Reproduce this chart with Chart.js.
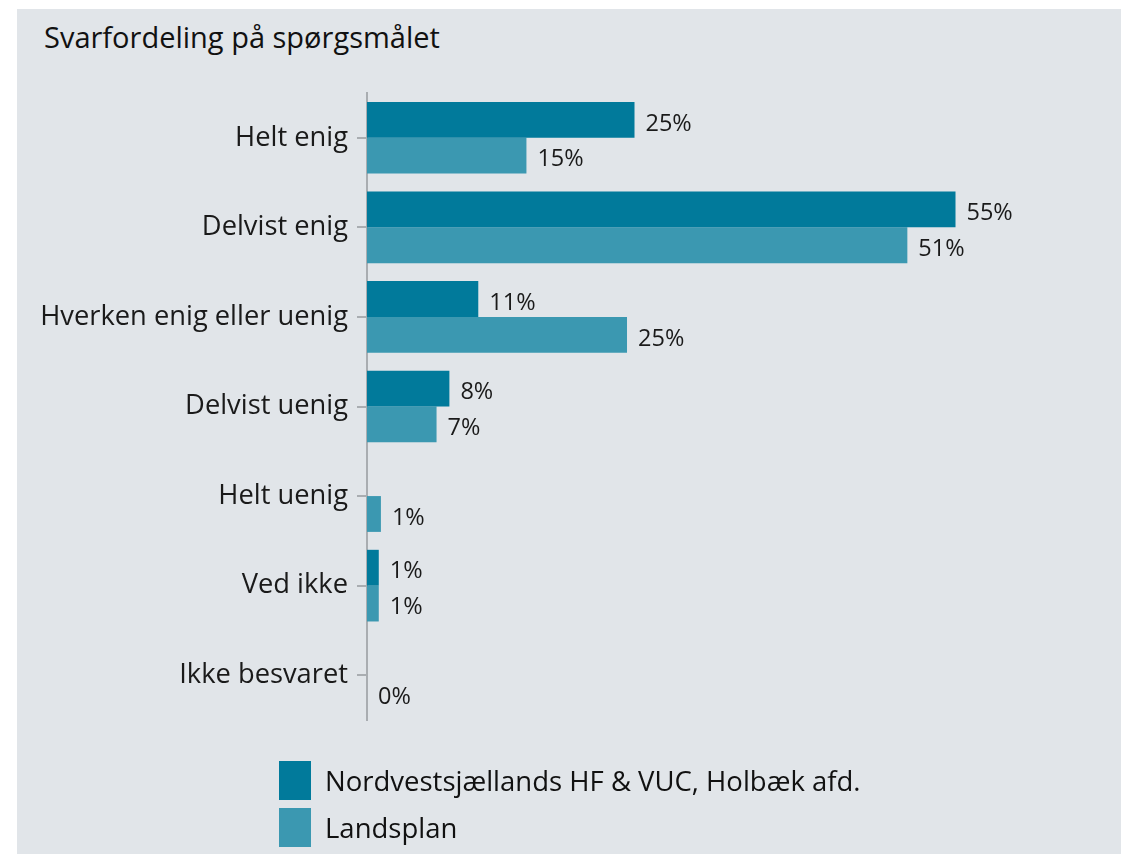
<!DOCTYPE html>
<html lang="da">
<head>
<meta charset="UTF-8">
<title>Svarfordeling på spørgsmålet</title>
<style>
  body { margin: 0; background: #ffffff; font-family: "Open Sans", "Noto Sans", sans-serif; }
  .panel {
    position: absolute;
    left: 17px; top: 9px;
    width: 1104px; height: 845px;
    background: #e1e5e9;
  }
  .panel h2 {
    position: absolute;
    left: 27px; top: 8px;
    margin: 0;
    font-size: 29px;
    font-weight: normal;
    color: #111;
  }
  #chartBox { position: absolute; left: 0; top: 0; width: 1104px; height: 845px; }
  #legend { position: absolute; left: 262px; top: 748px; }
  .item { display: flex; align-items: center; height: 47px; font-size: 27.5px; color: #111; }
  .swatch { width: 32px; height: 39px; margin-right: 14px; }
</style>
</head>
<body>
<div class="panel">
  <h2>Svarfordeling på spørgsmålet</h2>
  <div id="chartBox"><canvas id="chart"></canvas></div>
  <div id="legend"></div>
</div>

<script src="https://cdn.jsdelivr.net/npm/chart.js"></script>
<script>
  // data
  var categories = ['Helt enig', 'Delvist enig', 'Hverken enig eller uenig', 'Delvist uenig', 'Helt uenig', 'Ved ikke', 'Ikke besvaret'];
  var seriesNames = ['Nordvestsjællands HF & VUC, Holbæk afd.', 'Landsplan'];
  var skoleValues = [25.0, 55.0, 10.4, 7.7, 0, 1.1, 0];
  var landValues = [14.9, 50.5, 24.3, 6.5, 1.3, 1.1, 0];
  var skoleLabels = ['25%', '55%', '11%', '8%', '', '1%', ''];
  var landLabels = ['15%', '51%', '25%', '7%', '1%', '1%', '0%'];
  var colors = ['#017a9b', '#3b98b1'];

  // legend as html, stacked like the original
  var legend = document.getElementById('legend');
  seriesNames.forEach(function (name, i) {
    legend.innerHTML += '<div class="item"><span class="swatch" style="background:' + colors[i] + '"></span>' + name + '</div>';
  });

  // writes the percentage text right of each bar
  var valueLabels = {
    id: 'valueLabels',
    afterDatasetsDraw: function (chart) {
      var ctx = chart.ctx;
      var texts = [skoleLabels, landLabels];
      ctx.save();
      ctx.font = '23.5px "Open Sans", sans-serif';
      ctx.fillStyle = '#1a1a1a';
      ctx.textBaseline = 'middle';
      ctx.textAlign = 'left';
      chart.data.datasets.forEach(function (ds, d) {
        chart.getDatasetMeta(d).data.forEach(function (bar, i) {
          if (texts[d][i]) ctx.fillText(texts[d][i], bar.x + 11, bar.y + 4);
        });
      });
      ctx.restore();
    }
  };

  new Chart(document.getElementById('chart'), {
    type: 'bar',
    data: {
      labels: categories,
      datasets: [
        { label: seriesNames[0], data: skoleValues, backgroundColor: colors[0] },
        { label: seriesNames[1], data: landValues, backgroundColor: colors[1] }
      ]
    },
    options: {
      indexAxis: 'y',
      responsive: true,
      maintainAspectRatio: false,
      animation: false,
      layout: { padding: { top: 84, bottom: 134, left: 0, right: 112 } },
      datasets: { bar: { categoryPercentage: 0.8, barPercentage: 1.0 } },
      plugins: { legend: { display: false }, tooltip: { enabled: false } },
      scales: {
        x: { display: false, min: 0, max: 60 },
        y: {
          afterFit: function (scale) { scale.width = 350; },
          border: { color: '#a9adb1', width: 2 },
          grid: { drawOnChartArea: false, offset: false, color: '#a9adb1', lineWidth: 2, tickLength: 10 },
          ticks: { color: '#1a1a1a', padding: 9, font: { family: '"Open Sans", sans-serif', size: 27.3 } }
        }
      }
    },
    plugins: [valueLabels]
  });
</script>
</body>
</html>
